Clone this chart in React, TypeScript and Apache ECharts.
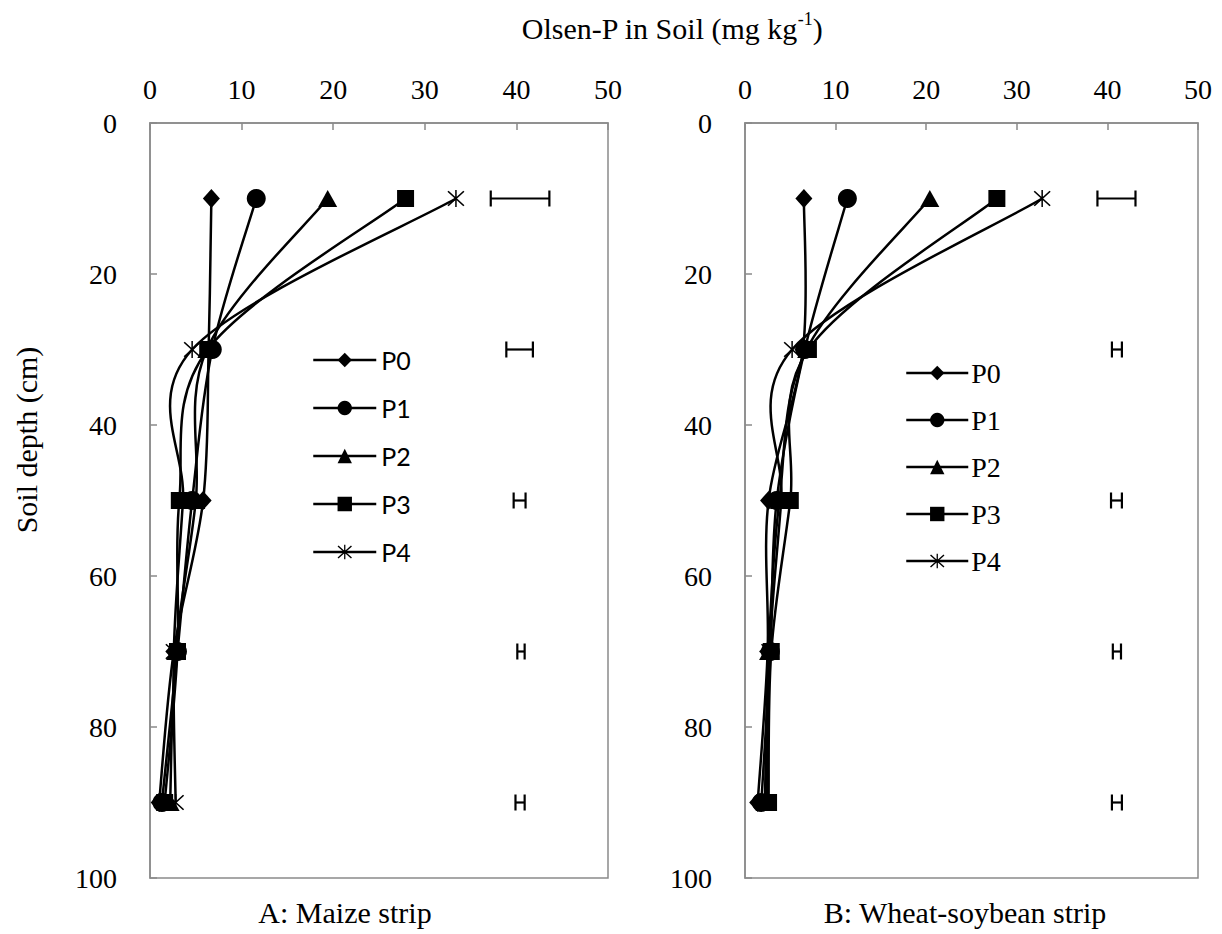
import React, { useEffect, useRef } from "react";
import * as echarts from "echarts";

const DEPTHS = [10, 30, 50, 70, 90];
const SERIES_NAMES = ["P0", "P1", "P2", "P3", "P4"];

const MAIZE_P0 = [6.7, 6.4, 5.8, 2.6, 1.0];
const MAIZE_P1 = [11.6, 6.8, 4.6, 3.0, 1.3];
const MAIZE_P2 = [19.4, 6.2, 5.0, 2.8, 2.2];
const MAIZE_P3 = [27.9, 6.3, 3.2, 3.0, 1.6];
const MAIZE_P4 = [33.4, 4.6, 3.6, 2.6, 2.8];
const MAIZE_ERR_LOW = [37.2, 38.9, 39.7, 40.1, 39.9];
const MAIZE_ERR_HIGH = [43.6, 41.8, 41.0, 40.9, 40.9];

const WHEAT_P0 = [6.5, 6.4, 2.6, 2.5, 1.4];
const WHEAT_P1 = [11.3, 6.6, 3.5, 2.8, 1.8];
const WHEAT_P2 = [20.4, 6.8, 3.8, 2.6, 2.2];
const WHEAT_P3 = [27.8, 7.0, 5.0, 2.9, 2.6];
const WHEAT_P4 = [32.8, 5.2, 4.0, 2.7, 2.4];
const WHEAT_ERR_LOW = [38.9, 40.5, 40.4, 40.6, 40.5];
const WHEAT_ERR_HIGH = [43.1, 41.6, 41.6, 41.5, 41.6];

const STAR_PATH =
  "path://M9.2,0 L10.8,0 L10.8,20 L9.2,20 Z M1,2.2 L2.2,1 L19,17.8 L17.8,19 Z M17.8,1 L19,2.2 L2.2,19 L1,17.8 Z";

const SYMBOLS: any[] = [
  { symbol: "diamond", size: [17, 19] },
  { symbol: "circle", size: 19 },
  { symbol: "triangle", size: [19, 17] },
  { symbol: "rect", size: 17 },
  { symbol: STAR_PATH, size: 17 },
];

const SERIF = "Liberation Serif";
const SANS = "Lato";
const GREY = "#8a8a8a";

function markerSeries(values: number[], idx: number, axisIndex: number) {
  const s = SYMBOLS[idx];
  return {
    name: SERIES_NAMES[idx],
    type: "line",
    xAxisIndex: axisIndex,
    yAxisIndex: axisIndex,
    data: values.map((v, i) => [v, DEPTHS[i]]),
    symbol: s.symbol,
    symbolSize: s.size,
    showSymbol: true,
    lineStyle: { color: "#000", width: 0, opacity: 0 },
    itemStyle: { color: "#000", borderWidth: 0 },
    z: 4 + idx,
  };
}

// Excel-like smoothed curve (Catmull-Rom, tension 1/6) drawn through axis coords
function curveSeries(values: number[], axisIndex: number) {
  return {
    type: "custom",
    xAxisIndex: axisIndex,
    yAxisIndex: axisIndex,
    encode: { x: 0, y: 1 },
    data: values.map((v, i) => [v, DEPTHS[i]]),
    renderItem: (params: any, api: any) => {
      const i = params.dataIndex;
      if (i >= values.length - 1) return { type: "group", children: [] };
      const pts = values.map((v, k) => api.coord([v, DEPTHS[k]]));
      const p0 = pts[Math.max(i - 1, 0)];
      const p1 = pts[i];
      const p2 = pts[i + 1];
      const p3 = pts[Math.min(i + 2, pts.length - 1)];
      const cp1 = [p1[0] + (p2[0] - p0[0]) / 6, p1[1] + (p2[1] - p0[1]) / 6];
      const cp2 = [p2[0] - (p3[0] - p1[0]) / 6, p2[1] - (p3[1] - p1[1]) / 6];
      return {
        type: "bezierCurve",
        shape: { x1: p1[0], y1: p1[1], cpx1: cp1[0], cpy1: cp1[1], cpx2: cp2[0], cpy2: cp2[1], x2: p2[0], y2: p2[1] },
        style: { stroke: "#000", lineWidth: 2.5, fill: null },
      };
    },
    z: 3,
  };
}

function errSeries(low: number[], high: number[], axisIndex: number) {
  return {
    type: "custom",
    xAxisIndex: axisIndex,
    yAxisIndex: axisIndex,
    encode: { x: [0, 2], y: 1 },
    data: low.map((l, i) => [l, DEPTHS[i], high[i]]),
    renderItem: (params: any, api: any) => {
      const lo = api.coord([api.value(0), api.value(1)]);
      const hi = api.coord([api.value(2), api.value(1)]);
      const h = 8;
      const style = { stroke: "#000", lineWidth: 2.2 };
      return {
        type: "group",
        children: [
          { type: "line", shape: { x1: lo[0], y1: lo[1], x2: hi[0], y2: hi[1] }, style },
          { type: "line", shape: { x1: lo[0], y1: lo[1] - h, x2: lo[0], y2: lo[1] + h }, style },
          { type: "line", shape: { x1: hi[0], y1: hi[1] - h, x2: hi[0], y2: hi[1] + h }, style },
        ],
      };
    },
    z: 2,
  };
}

function xAxis(gridIndex: number) {
  return {
    type: "value",
    gridIndex,
    position: "top",
    min: 0,
    max: 50,
    interval: 10,
    axisLine: { show: true, lineStyle: { color: GREY, width: 1.5 } },
    axisTick: { show: true, inside: true, length: 7, lineStyle: { color: GREY, width: 1.5 } },
    splitLine: { show: false },
    axisLabel: { color: "#000", fontSize: 28, fontFamily: SERIF, margin: 20 },
  };
}

function yAxis(gridIndex: number, margin: number) {
  return {
    type: "value",
    gridIndex,
    inverse: true,
    min: 0,
    max: 100,
    interval: 20,
    axisLine: { show: true, lineStyle: { color: GREY, width: 1.5 } },
    axisTick: { show: true, inside: true, length: 7, lineStyle: { color: GREY, width: 1.5 } },
    splitLine: { show: false },
    axisLabel: { color: "#000", fontSize: 28, fontFamily: SERIF, margin },
  };
}

export default function App() {
  const ref = useRef<HTMLDivElement>(null);
  useEffect(() => {
    if (!ref.current) return;
    const chart = echarts.init(ref.current, undefined, { renderer: "svg" });
    const option: any = {
      animation: false,
      backgroundColor: "#fff",
      textStyle: { fontFamily: SERIF },
      title: {
        text: "{a|Olsen-P in Soil (mg kg}{s|-1}{a|)}",
        left: 672,
        top: 10,
        textAlign: "center",
        padding: 0,
        textStyle: {
          fontWeight: "normal",
          fontFamily: SERIF,
          rich: {
            a: { fontSize: 30, fontFamily: SERIF, fontWeight: "normal", color: "#000", lineHeight: 36 },
            s: { fontSize: 18, fontFamily: SERIF, fontWeight: "normal", color: "#000", lineHeight: 20, verticalAlign: "top" },
          },
        },
      },
      grid: [
        { left: 150, top: 123, width: 458, height: 755, show: true, borderColor: GREY, borderWidth: 1.5, backgroundColor: "transparent" },
        { left: 745, top: 123, width: 453, height: 755, show: true, borderColor: GREY, borderWidth: 1.5, backgroundColor: "transparent" },
      ],
      xAxis: [xAxis(0), xAxis(1)],
      yAxis: [yAxis(0, 33), yAxis(1, 33)],
      legend: [
        {
          data: SERIES_NAMES,
          orient: "vertical",
          left: 312,
          top: 347,
          padding: 0,
          itemWidth: 63,
          itemHeight: 18,
          itemGap: 22,
          selectedMode: false,
          lineStyle: { color: "#000", width: 2.5, opacity: 1 },
          textStyle: { fontSize: 25, lineHeight: 26, fontFamily: SANS, color: "#000", padding: [0, 0, 0, 0] },
        },
        {
          data: SERIES_NAMES,
          orient: "vertical",
          left: 905,
          top: 359,
          padding: 0,
          itemWidth: 62,
          itemHeight: 18,
          itemGap: 19,
          selectedMode: false,
          lineStyle: { color: "#000", width: 2.5, opacity: 1 },
          textStyle: { fontSize: 28, lineHeight: 28, fontFamily: SERIF, color: "#000", padding: [0, 0, 0, -2] },
        },
      ],
      graphic: [
        {
          type: "text",
          x: 26,
          y: 440,
          rotation: Math.PI / 2,
          style: { text: "Soil depth (cm)", fontSize: 30, fontFamily: SERIF, fill: "#000", textAlign: "center", textVerticalAlign: "middle" },
        },
        {
          type: "text",
          x: 345,
          y: 912,
          style: { text: "A: Maize strip", fontSize: 30, fontFamily: SERIF, fill: "#000", textAlign: "center", textVerticalAlign: "middle" },
        },
        {
          type: "text",
          x: 965,
          y: 912,
          style: { text: "B: Wheat-soybean strip", fontSize: 30, fontFamily: SERIF, fill: "#000", textAlign: "center", textVerticalAlign: "middle" },
        },
      ],
      series: [
        curveSeries(MAIZE_P0, 0),
        curveSeries(MAIZE_P1, 0),
        curveSeries(MAIZE_P2, 0),
        curveSeries(MAIZE_P3, 0),
        curveSeries(MAIZE_P4, 0),
        markerSeries(MAIZE_P0, 0, 0),
        markerSeries(MAIZE_P1, 1, 0),
        markerSeries(MAIZE_P2, 2, 0),
        markerSeries(MAIZE_P3, 3, 0),
        markerSeries(MAIZE_P4, 4, 0),
        errSeries(MAIZE_ERR_LOW, MAIZE_ERR_HIGH, 0),
        curveSeries(WHEAT_P0, 1),
        curveSeries(WHEAT_P1, 1),
        curveSeries(WHEAT_P2, 1),
        curveSeries(WHEAT_P3, 1),
        curveSeries(WHEAT_P4, 1),
        markerSeries(WHEAT_P0, 0, 1),
        markerSeries(WHEAT_P1, 1, 1),
        markerSeries(WHEAT_P2, 2, 1),
        markerSeries(WHEAT_P3, 3, 1),
        markerSeries(WHEAT_P4, 4, 1),
        errSeries(WHEAT_ERR_LOW, WHEAT_ERR_HIGH, 1),
      ],
    };
    chart.setOption(option);
    return () => chart.dispose();
  }, []);
  return (
    <div
      ref={ref}
      style={{ position: "absolute", left: 0, top: 0, width: 1222, height: 934, background: "#fff" }}
    />
  );
}
